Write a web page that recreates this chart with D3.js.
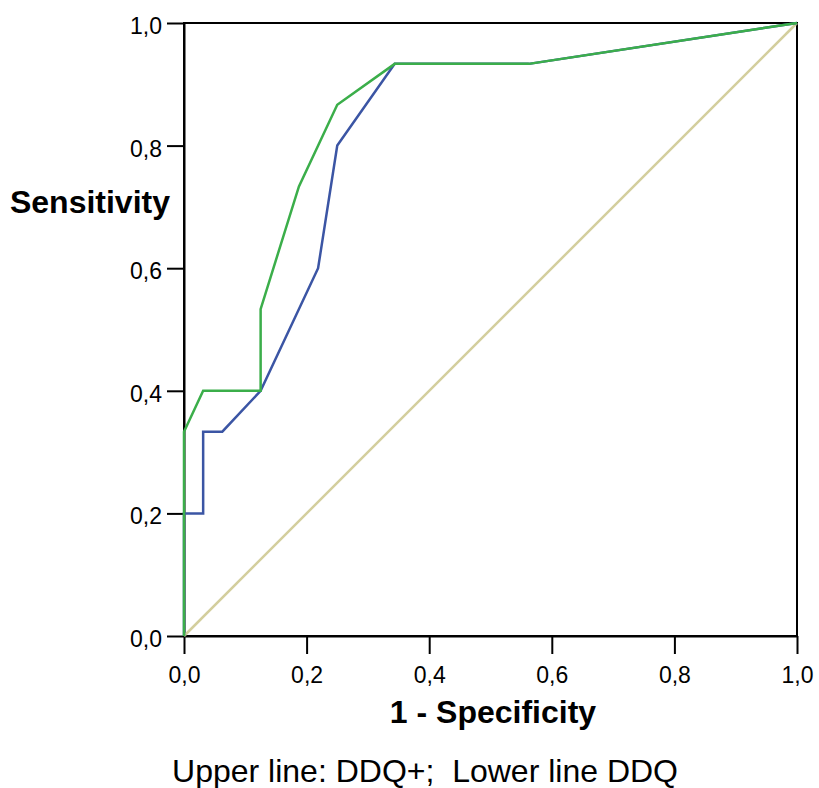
<!DOCTYPE html>
<html lang="en">
<head>
  <script src="https://d3js.org/d3.v7.min.js"></script>
  <style>
    body { margin: 0; background: #fff; font-family: "Liberation Sans", Arial, sans-serif; }
    .axis text { font: 23px "Liberation Sans", Arial, sans-serif; fill: #000; }
    .axis path, .axis line { stroke: #000; stroke-width: 2px; }
  </style>
</head>
<body>
<div id="roc"></div>
<script>
  // ROC coordinates (1 - specificity, sensitivity)
  var ddqX = [0, 0, 1/32, 1/32, 2/32, 4/32, 7/32, 8/32, 11/32, 18/32, 1];
  var ddqY = [0, 3/15, 3/15, 5/15, 5/15, 6/15, 9/15, 12/15, 14/15, 14/15, 1];

  var ddqPlusX = [0, 0, 1/32, 4/32, 4/32, 6/32, 8/32, 11/32, 18/32, 1];
  var ddqPlusY = [0, 5/15, 6/15, 6/15, 8/15, 11/15, 13/15, 14/15, 14/15, 1];

  var refX = [0, 1];
  var refY = [0, 1];

  var tickValues = [0, 0.2, 0.4, 0.6, 0.8, 1.0];

  var margin = {top: 23, right: 22, bottom: 152, left: 184},
      width = 819 - margin.left - margin.right,
      height = 788 - margin.top - margin.bottom;

  var svg = d3.select("#roc").append("svg")
      .attr("width", 819)
      .attr("height", 788)
      .append("g")
      .attr("transform", "translate(" + margin.left + "," + margin.top + ")");

  var x = d3.scaleLinear().domain([0, 1]).range([0, width]);
  var y = d3.scaleLinear().domain([0, 1]).range([height, 0]);

  var fmt = function(d) { return d3.format(".1f")(d).replace(".", ","); };

  // frame
  svg.append("rect")
      .attr("x", 0).attr("y", 0)
      .attr("width", width).attr("height", height)
      .attr("fill", "none")
      .attr("stroke", "#000")
      .attr("stroke-width", 2);

  var gX = svg.append("g")
      .attr("class", "axis")
      .attr("transform", "translate(0," + height + ")")
      .call(d3.axisBottom(x).tickValues(tickValues).tickFormat(fmt).tickSize(18).tickSizeOuter(0).tickPadding(13));

  var gY = svg.append("g")
      .attr("class", "axis")
      .call(d3.axisLeft(y).tickValues(tickValues).tickFormat(fmt).tickSize(17).tickSizeOuter(0).tickPadding(5));

  gY.selectAll("text").attr("dy", "0.46em");

  var line = d3.line()
      .x(function(d) { return x(d[0]); })
      .y(function(d) { return y(d[1]); });

  function pairs(xs, ys) { return xs.map(function(v, i) { return [v, ys[i]]; }); }

  svg.append("path")
      .attr("d", line(pairs(refX, refY)))
      .attr("fill", "none")
      .attr("stroke", "#d3ce9d")
      .attr("stroke-width", 2.5);

  svg.append("path")
      .attr("d", line(pairs(ddqX, ddqY)))
      .attr("fill", "none")
      .attr("stroke", "#3b55a4")
      .attr("stroke-width", 2.5);

  svg.append("path")
      .attr("d", line(pairs(ddqPlusX, ddqPlusY)))
      .attr("fill", "none")
      .attr("stroke", "#3bae4a")
      .attr("stroke-width", 2.5);

  // titles
  svg.append("text")
      .attr("x", -14)
      .attr("y", 190)
      .attr("text-anchor", "end")
      .style("font", "bold 32px 'Liberation Sans', Arial, sans-serif")
      .text("Sensitivity");

  svg.append("text")
      .attr("x", 309)
      .attr("y", 700)
      .attr("text-anchor", "middle")
      .style("font", "bold 32px 'Liberation Sans', Arial, sans-serif")
      .text("1 - Specificity");

  svg.append("text")
      .attr("x", 425 - margin.left)
      .attr("y", 759)
      .attr("text-anchor", "middle")
      .style("font", "32px 'Liberation Sans', Arial, sans-serif")
      .attr("xml:space", "preserve")
      .text("Upper line: DDQ+;  Lower line DDQ");
</script>
</body>
</html>
